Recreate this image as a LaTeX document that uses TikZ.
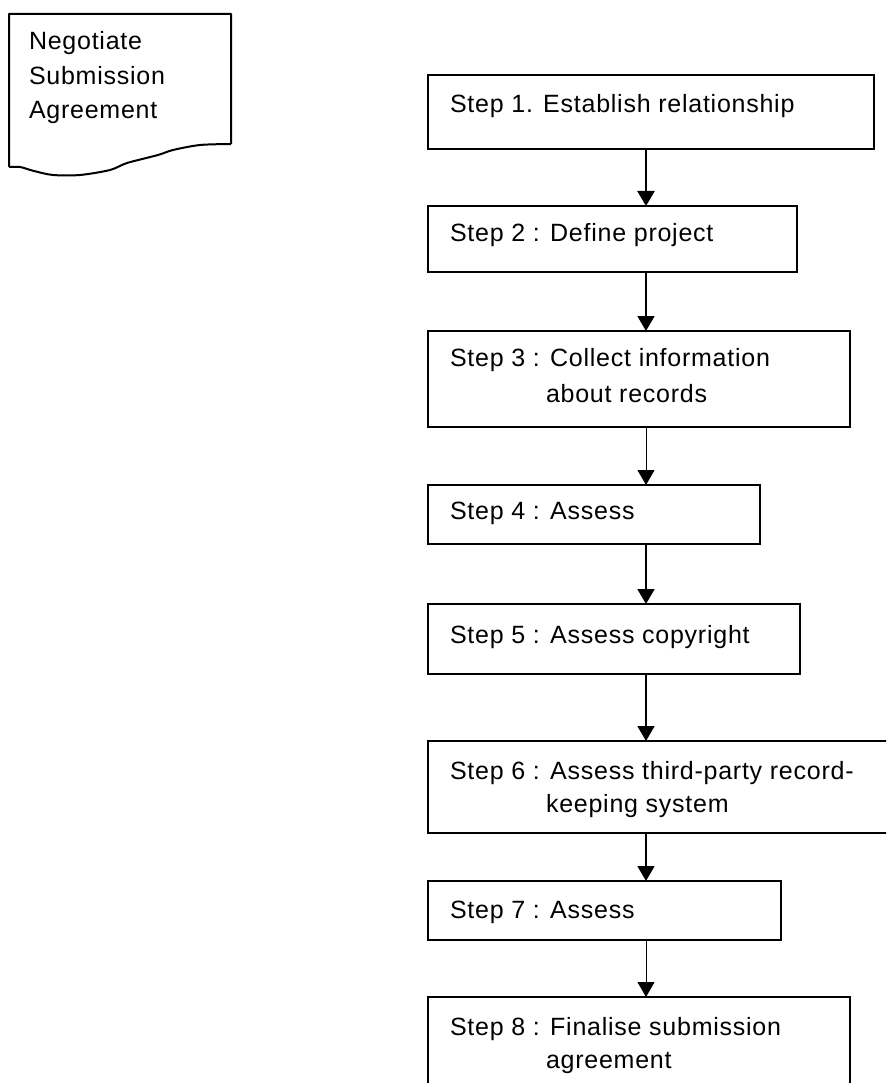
\documentclass[tikz,border=0pt]{standalone}
\usepackage{fontspec}
\setmainfont{Liberation Sans}[LetterSpace=3]
\usetikzlibrary{arrows.meta}
\begin{document}
\begin{tikzpicture}[x=1pt,y=-1pt,
  box/.style={draw, line width=2pt, rectangle, inner sep=0pt, outer sep=0pt},
  txt/.style={inner sep=0pt, outer sep=0pt, anchor=base west, font=\fontsize{25pt}{30pt}\selectfont},
  arr/.style={-{Triangle[width=17pt,length=15pt]}},
  arrthick/.style={arr, line width=2.5pt},
  arrmid/.style={arr, line width=1.8pt},
  arrthin/.style={arr, line width=1pt}]
\useasboundingbox (0,0) rectangle (886,1083);
\clip (0,0) rectangle (886,1083);
\fill[white] (0,0) rectangle (886,1083);
% document shape
\draw[line width=2pt, line join=round] (231,144) -- (231,14) -- (9,14) -- (9,167)
  plot[smooth, tension=0.5] coordinates {(9,167) (20,167) (34,171) (53,175) (80,175) (110,170) (127,163) (158,155) (173,150) (200,145) (231,144)};
\node[txt] (doc1) at (29,50) {Negotiate};
\node[txt] (doc2) at (29,85) {Submission};
\node[txt] (doc3) at (29,119) {Agreement};
% boxes
\node[box, minimum width=446pt, minimum height=74pt] (b1) at (651,112) {};
\node[box, minimum width=369pt, minimum height=66pt] (b2) at (612.5,239) {};
\node[box, minimum width=422pt, minimum height=96pt] (b3) at (639,379) {};
\node[box, minimum width=332pt, minimum height=59pt] (b4) at (594,514.5) {};
\node[box, minimum width=372pt, minimum height=70pt] (b5) at (614,639) {};
\node[box, minimum width=462pt, minimum height=92pt] (b6) at (659,787) {};
\node[box, minimum width=353pt, minimum height=59pt] (b7) at (604.5,910.5) {};
\node[box, minimum width=422pt, minimum height=96pt] (b8) at (639,1045) {};
% texts
\node[txt] (t1) at (450,113) {Step 1. Establish relationship};
\node[txt] (t2) at (450,241) {Step 2 : Define project};
\node[txt] (t3a) at (450,366) {Step 3 : Collect information};
\node[txt] (t3b) at (546,402) {about records};
\node[txt] (t4) at (450,519) {Step 4 : Assess};
\node[txt] (t5) at (450,643) {Step 5 : Assess copyright};
\node[txt] (t6a) at (450,779) {Step 6 : Assess third-party record-};
\node[txt] (t6b) at (546,812) {keeping system};
\node[txt] (t7) at (450,918) {Step 7 : Assess};
\node[txt] (t8a) at (450,1035) {Step 8 : Finalise submission};
\node[txt] (t8b) at (546,1068) {agreement};
% arrows
\coordinate (ax) at (646,0);
\draw[arrthick] (b1.south -| ax) -- (b2.north -| ax);
\draw[arrmid] (b2.south -| ax) -- (b3.north -| ax);
\draw[arrthin] (b3.south -| ax) -- (b4.north -| ax);
\draw[arrmid] (b4.south -| ax) -- (b5.north -| ax);
\draw[arrmid] (b5.south -| ax) -- (b6.north -| ax);
\draw[arrmid] (b6.south -| ax) -- (b7.north -| ax);
\draw[arrthin] (b7.south -| ax) -- (b8.north -| ax);
\end{tikzpicture}
\end{document}
